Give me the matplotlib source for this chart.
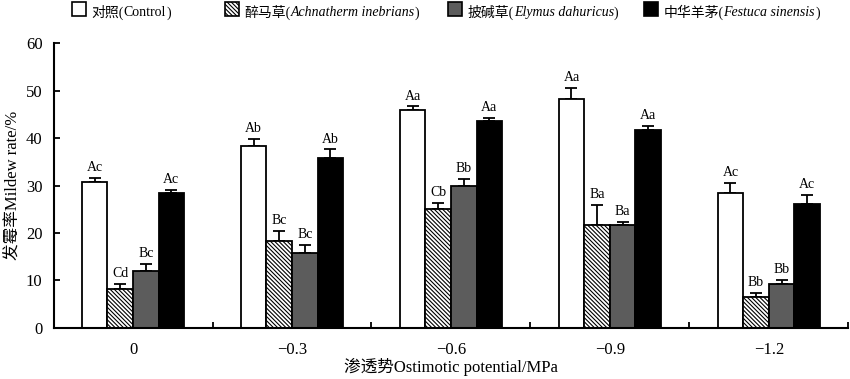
import numpy as np
import matplotlib
matplotlib.use('Agg')
import matplotlib.pyplot as plt
from matplotlib.patches import Rectangle
from matplotlib.offsetbox import (TextArea, DrawingArea, HPacker,
                                  AnchoredOffsetbox)

plt.rcParams['font.family'] = ['Liberation Serif', 'Noto Sans CJK SC']
plt.rcParams['hatch.linewidth'] = 0.8

# data
potentials = ['0', '\u22120.3', '\u22120.6', '\u22120.9', '\u22121.2']
series_cn = ['对照', '醉马草', '披碱草', '中华羊茅']
series_latin = ['Control', 'Achnatherm inebrians', 'Elymus dahuricus', 'Festuca sinensis']
control = [30.8, 38.3, 45.9, 48.3, 28.4]
achnatherum = [8.2, 18.4, 25.0, 21.7, 6.6]
elymus = [12.0, 15.8, 30.0, 21.7, 9.2]
festuca = [28.4, 35.9, 43.5, 41.8, 26.0]
control_err = [0.8, 1.6, 0.8, 2.3, 2.2]
achnatherum_err = [1.0, 2.1, 1.4, 4.2, 0.8]
elymus_err = [1.5, 1.6, 1.4, 0.7, 0.9]
festuca_err = [0.7, 1.7, 0.8, 0.7, 2.1]
control_lbl = ['Ac', 'Ab', 'Aa', 'Aa', 'Ac']
achnatherum_lbl = ['Cd', 'Bc', 'Cb', 'Ba', 'Bb']
elymus_lbl = ['Bc', 'Bc', 'Bb', 'Ba', 'Bb']
festuca_lbl = ['Ac', 'Ab', 'Aa', 'Aa', 'Ac']

values = [control, achnatherum, elymus, festuca]
errors = [control_err, achnatherum_err, elymus_err, festuca_err]
labels = [control_lbl, achnatherum_lbl, elymus_lbl, festuca_lbl]
faces = ['white', 'white', '#5c5c5c', 'black']
hatches = [None, '\\' * 8, None, None]
italic = [False, True, True, True]

fig = plt.figure(figsize=(8.5, 3.79), dpi=100)
ax = fig.add_axes([0.063, 0.135, 0.935, 0.751])

x = np.arange(len(potentials))
w = 0.161
for i in range(4):
    pos = x + (i - 1.5) * w
    ax.bar(pos, values[i], width=w, color=faces[i], edgecolor='black',
           linewidth=1.3, hatch=hatches[i], zorder=2)
    ax.errorbar(pos, values[i], yerr=[np.zeros(5), errors[i]], fmt='none',
                ecolor='black', elinewidth=1.3, capsize=4, capthick=1.3, zorder=1)
    for p, v, e, t in zip(pos, values[i], errors[i], labels[i]):
        ax.text(p, v + e + 0.8, t, ha='center', va='bottom', fontsize=10)

ax.set_xlim(-0.5, 4.5)
ax.set_ylim(0, 60)
ax.set_yticks(range(0, 61, 10))
ax.set_xticks(x)
ax.set_xticklabels(potentials)
ax.set_xticks(x + 0.5, minor=True)
ax.tick_params(axis='x', which='major', length=0, pad=10, labelsize=12)
ax.tick_params(axis='x', which='minor', direction='in', length=4, width=1.3)
ax.tick_params(axis='y', direction='in', length=4, width=1.3, labelsize=12, pad=8)
for s in ['top', 'right']:
    ax.spines[s].set_visible(False)
for s in ['left', 'bottom']:
    ax.spines[s].set_linewidth(1.5)

ax.set_ylabel('发霉率Mildew rate/%', fontsize=12, labelpad=4)
ax.set_xlabel('渗透势Ostimotic potential/MPa', fontsize=12, labelpad=0)

# legend built by hand so the Chinese and italic Latin parts can be mixed
legend_x = [72, 225, 448, 644]
for i in range(4):
    da = DrawingArea(10, 10, 0, 0)
    da.add_artist(Rectangle((0, 0), 10, 10, facecolor=faces[i], edgecolor='black',
                            hatch=hatches[i], linewidth=1.2))
    style = 'italic' if italic[i] else 'normal'
    parts = [TextArea(series_cn[i] + '(', textprops=dict(fontsize=10)),
             TextArea(series_latin[i], textprops=dict(fontsize=10, style=style)),
             TextArea(')', textprops=dict(fontsize=10))]
    txt = HPacker(children=parts, align='baseline', pad=0, sep=0)
    entry = HPacker(children=[da, txt], align='baseline', pad=0, sep=4)
    anchored = AnchoredOffsetbox(loc='center left', child=entry, frameon=False,
                                 bbox_to_anchor=(legend_x[i] / 850, 1 - 11 / 379),
                                 bbox_transform=fig.transFigure, pad=0, borderpad=0)
    fig.add_artist(anchored)

fig.savefig('out.png', dpi=100)
